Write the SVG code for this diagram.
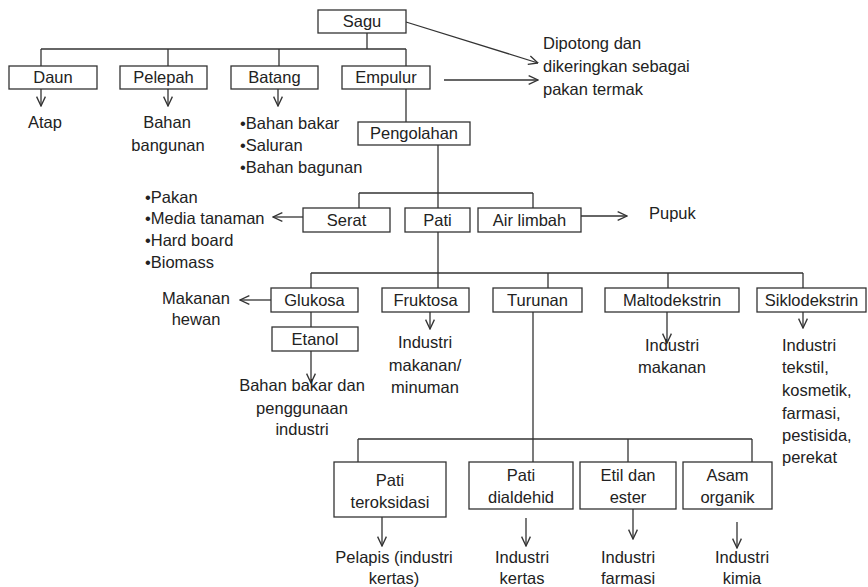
<svg xmlns="http://www.w3.org/2000/svg" width="868" height="587" viewBox="0 0 868 587">
<style>
rect.b{fill:#fff;stroke:#333;stroke-width:1.3}
text{font-family:"Liberation Sans",Arial,sans-serif;font-size:16.5px;fill:#222}
.c{text-anchor:middle}
#connectors line,#connectors polyline{stroke:#333;stroke-width:1.3;fill:none}
.a{marker-end:url(#arr)}
</style>
<defs>
<marker id="arr" viewBox="0 0 10 10" refX="9.5" refY="5" markerWidth="11" markerHeight="11" markerUnits="userSpaceOnUse" orient="auto">
<path d="M1,1 L9.5,5 L1,9" fill="none" stroke="#333" stroke-width="1.2"/>
</marker>
</defs>
<rect width="868" height="587" fill="#fff"/>
<g id="connectors">
<line x1="367" y1="33" x2="367" y2="49"/>
<line x1="41" y1="49" x2="406" y2="49"/>
<line x1="41" y1="49" x2="41" y2="66"/>
<line x1="168" y1="49" x2="168" y2="66"/>
<line x1="279" y1="49" x2="279" y2="66"/>
<line x1="406" y1="49" x2="406" y2="66"/>
<line x1="406" y1="89" x2="406" y2="122"/>
<line class="a" x1="406" y1="22" x2="538" y2="63"/>
<line class="a" x1="444" y1="80" x2="538" y2="80"/>
<line class="a" x1="41" y1="89" x2="41" y2="106"/>
<line class="a" x1="168" y1="89" x2="168" y2="106"/>
<line class="a" x1="278" y1="89" x2="278" y2="106"/>
<line x1="438" y1="145" x2="438" y2="208"/>
<line x1="359" y1="193" x2="533" y2="193"/>
<line x1="359" y1="193" x2="359" y2="208"/>
<line x1="533" y1="193" x2="533" y2="208"/>
<line class="a" x1="303" y1="217" x2="273" y2="217"/>
<line class="a" x1="581" y1="216" x2="627" y2="216"/>
<line x1="438" y1="232" x2="438" y2="288"/>
<line x1="311" y1="273" x2="803" y2="273"/>
<line x1="311" y1="273" x2="311" y2="288"/>
<line x1="548" y1="273" x2="548" y2="288"/>
<line x1="668" y1="273" x2="668" y2="288"/>
<line x1="803" y1="273" x2="803" y2="288"/>
<line class="a" x1="271" y1="300" x2="240" y2="300"/>
<line x1="311" y1="312" x2="311" y2="327"/>
<line class="a" x1="311" y1="351" x2="311" y2="383"/>
<line class="a" x1="430" y1="312" x2="430" y2="329"/>
<line class="a" x1="667" y1="312" x2="667" y2="343"/>
<line class="a" x1="803" y1="312" x2="803" y2="328"/>
<line x1="533" y1="312" x2="533" y2="462"/>
<line x1="358" y1="439" x2="752" y2="439"/>
<line x1="358" y1="439" x2="358" y2="462"/>
<line x1="628" y1="439" x2="628" y2="462"/>
<line x1="752" y1="439" x2="752" y2="462"/>
<line class="a" x1="382" y1="517" x2="382" y2="546"/>
<line class="a" x1="526" y1="518" x2="526" y2="546"/>
<line class="a" x1="633" y1="509" x2="633" y2="539"/>
<line class="a" x1="737" y1="522" x2="737" y2="548"/>
</g>
<g id="sagu"><rect class="b" x="318" y="10" width="88" height="23"/><text class="c" x="362" y="27">Sagu</text></g>
<g id="daun"><rect class="b" x="9" y="66" width="88" height="23"/><text class="c" x="53" y="83">Daun</text></g>
<g id="pelepah"><rect class="b" x="120" y="66" width="87" height="23"/><text class="c" x="163.5" y="83">Pelepah</text></g>
<g id="batang"><rect class="b" x="231" y="66" width="87" height="23"/><text class="c" x="274.5" y="83">Batang</text></g>
<g id="empulur"><rect class="b" x="342" y="66" width="88" height="23"/><text class="c" x="386" y="83">Empulur</text></g>
<g id="pengolahan"><rect class="b" x="358" y="122" width="112" height="23"/><text class="c" x="414" y="139">Pengolahan</text></g>
<g id="serat"><rect class="b" x="303" y="208" width="87" height="24"/><text class="c" x="346.5" y="226">Serat</text></g>
<g id="pati"><rect class="b" x="405" y="208" width="65" height="24"/><text class="c" x="437.5" y="226">Pati</text></g>
<g id="airlimbah"><rect class="b" x="478" y="208" width="103" height="24"/><text class="c" x="529.5" y="226">Air limbah</text></g>
<g id="glukosa"><rect class="b" x="271" y="288" width="87" height="24"/><text class="c" x="314.5" y="306">Glukosa</text></g>
<g id="fruktosa"><rect class="b" x="382" y="288" width="87" height="24"/><text class="c" x="425.5" y="306">Fruktosa</text></g>
<g id="turunan"><rect class="b" x="493" y="288" width="89" height="24"/><text class="c" x="537.5" y="306">Turunan</text></g>
<g id="maltodekstrin"><rect class="b" x="605" y="288" width="134" height="24"/><text class="c" x="672" y="306">Maltodekstrin</text></g>
<g id="siklodekstrin"><rect class="b" x="757" y="288" width="109" height="24"/><text class="c" x="811.5" y="306">Siklodekstrin</text></g>
<g id="etanol"><rect class="b" x="272" y="327" width="86" height="24"/><text class="c" x="315" y="345">Etanol</text></g>
<g id="patiteroksidasi"><rect class="b" x="334" y="462" width="112" height="55"/><text class="c" x="390" y="486">Pati</text><text class="c" x="390" y="508">teroksidasi</text></g>
<g id="patidialdehid"><rect class="b" x="469" y="462" width="104" height="47"/><text class="c" x="521" y="481">Pati</text><text class="c" x="521" y="503">dialdehid</text></g>
<g id="etildanester"><rect class="b" x="580" y="462" width="96" height="47"/><text class="c" x="628" y="481">Etil dan</text><text class="c" x="628" y="503">ester</text></g>
<g id="asamorganik"><rect class="b" x="683" y="462" width="89" height="47"/><text class="c" x="727.5" y="481">Asam</text><text class="c" x="727.5" y="503">organik</text></g>
<g id="labels">
<text x="543" y="49">Dipotong dan</text>
<text x="543" y="72">dikeringkan sebagai</text>
<text x="543" y="95">pakan termak</text>
<text class="c" x="45" y="128">Atap</text>
<text class="c" x="167" y="128">Bahan</text>
<text class="c" x="168" y="151">bangunan</text>
<text x="240" y="129">•Bahan bakar</text>
<text x="240" y="151">•Saluran</text>
<text x="240" y="173">•Bahan bagunan</text>
<text x="145" y="203">•Pakan</text>
<text x="145" y="224">•Media tanaman</text>
<text x="145" y="246">•Hard board</text>
<text x="145" y="268">•Biomass</text>
<text x="649" y="219">Pupuk</text>
<text class="c" x="196" y="304">Makanan</text>
<text class="c" x="196" y="325">hewan</text>
<text class="c" x="302" y="391">Bahan bakar dan</text>
<text class="c" x="302" y="414">penggunaan</text>
<text class="c" x="302" y="435">industri</text>
<text class="c" x="425" y="348">Industri</text>
<text class="c" x="425" y="371">makanan/</text>
<text class="c" x="425" y="393">minuman</text>
<text class="c" x="672" y="351">Industri</text>
<text class="c" x="672" y="373">makanan</text>
<text x="782" y="351">Industri</text>
<text x="782" y="373">tekstil,</text>
<text x="782" y="396">kosmetik,</text>
<text x="782" y="419">farmasi,</text>
<text x="782" y="441">pestisida,</text>
<text x="782" y="463">perekat</text>
<text class="c" x="394" y="563">Pelapis (industri</text>
<text class="c" x="394" y="584">kertas)</text>
<text class="c" x="522" y="563">Industri</text>
<text class="c" x="522" y="584">kertas</text>
<text class="c" x="628" y="563">Industri</text>
<text class="c" x="628" y="584">farmasi</text>
<text class="c" x="742" y="563">Industri</text>
<text class="c" x="742" y="584">kimia</text>
</g>
</svg>
